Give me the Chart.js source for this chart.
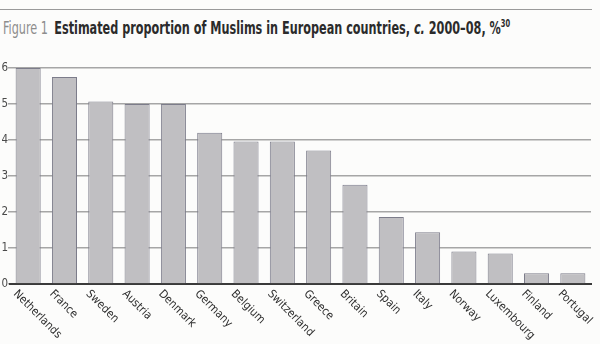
<!DOCTYPE html>
<html>
<head>
<meta charset="utf-8">
<script src="https://cdn.jsdelivr.net/npm/chart.js@4.4.1/dist/chart.umd.min.js"></script>
<style>
  html, body { margin: 0; padding: 0; background: #fcfcfb; }
  #wrap { position: relative; width: 600px; height: 344px; overflow: hidden; }
  #rule { position: absolute; left: 0; top: 9px; width: 592px; height: 0; border-top: 1.5px solid #9a9a9a; }
  #title {
    position: absolute; left: 3px; top: 17px; white-space: nowrap; transform-origin: 0 0;
    font-family: "Liberation Sans Narrow", "DejaVu Sans Condensed", "Roboto", sans-serif;
    font-stretch: condensed; font-size: 18.5px; color: #2b2b2b;
  }
  #title .fig { color: #8d8d8d; font-weight: normal; margin-right: 4px; }
  #title b { font-weight: bold; }
  #title sup { font-size: 11px; font-weight: bold; }
  canvas { position: absolute; left: 0; top: 0; }
</style>
</head>
<body>
<div id="wrap">
  <div id="rule"></div>
  <div id="title"><span class="fig">Figure 1</span> <b>Estimated proportion of Muslims in European countries, <i>c.</i> 2000–08, %<sup>30</sup></b></div>
  <canvas id="chart" width="600" height="344"></canvas>
</div>
<script>
// values
const countries = ['Netherlands', 'France', 'Sweden', 'Austria', 'Denmark', 'Germany', 'Belgium',
  'Switzerland', 'Greece', 'Britain', 'Spain', 'Italy', 'Norway', 'Luxembourg', 'Finland', 'Portugal'];
const muslimShare = [6.0, 5.75, 5.07, 5.0, 5.0, 4.2, 3.96, 3.96, 3.71, 2.76, 1.86, 1.44, 0.9, 0.85, 0.3, 0.3];
const yTicks = [0, 1, 2, 3, 4, 5, 6];

const labelFont = '"Liberation Sans Narrow", "DejaVu Sans Condensed", "Open Sans", sans-serif';

// squeeze the title to the printed width
const title = document.getElementById('title');
title.style.transform = 'scaleX(' + (507 / title.scrollWidth) + ')';

// slanted category names, reading down to the right
const slantLabels = {
  id: 'slantLabels',
  afterDraw(chart) {
    const ctx = chart.ctx;
    const xs = chart.scales.x;
    ctx.save();
    ctx.font = '11.5px ' + labelFont;
    ctx.fillStyle = '#2e2e2e';
    ctx.textAlign = 'left';
    ctx.textBaseline = 'top';
    countries.forEach((name, i) => {
      const x = xs.getPixelForTick(i) - 9;
      const y = chart.chartArea.bottom + 4;
      ctx.save();
      ctx.translate(x, y);
      ctx.rotate(Math.PI / 4);
      ctx.fillText(name, 0, 0);
      ctx.restore();
    });
    ctx.restore();
  }
};

new Chart(document.getElementById('chart'), {
  type: 'bar',
  data: {
    labels: countries,
    datasets: [{
      data: muslimShare,
      backgroundColor: '#c0bfc2',
      borderColor: '#7c7c8a',
      borderWidth: 1,
      barPercentage: 0.69,
      categoryPercentage: 1.0
    }]
  },
  options: {
    responsive: false,
    animation: false,
    layout: { padding: { top: 68, right: 9, left: 0, bottom: 0 } },
    plugins: { legend: { display: false }, tooltip: { enabled: false } },
    scales: {
      x: {
        grid: { display: false },
        border: { display: true, color: '#3a3a3a', width: 2 },
        ticks: { display: false },
        afterFit(scale) { scale.height = 60; }
      },
      y: {
        min: 0,
        max: 6,
        afterBuildTicks(scale) { scale.ticks = yTicks.map(v => ({ value: v })); },
        afterFit(scale) { scale.width = 10; },
        grid: { color: '#a6a6a6', lineWidth: 1.5, tickLength: 2 },
        border: { display: false },
        ticks: {
          padding: 0,
          color: '#4a4a4a',
          font: { family: labelFont, size: 11.5 }
        }
      }
    }
  },
  plugins: [slantLabels]
});
</script>
</body>
</html>
